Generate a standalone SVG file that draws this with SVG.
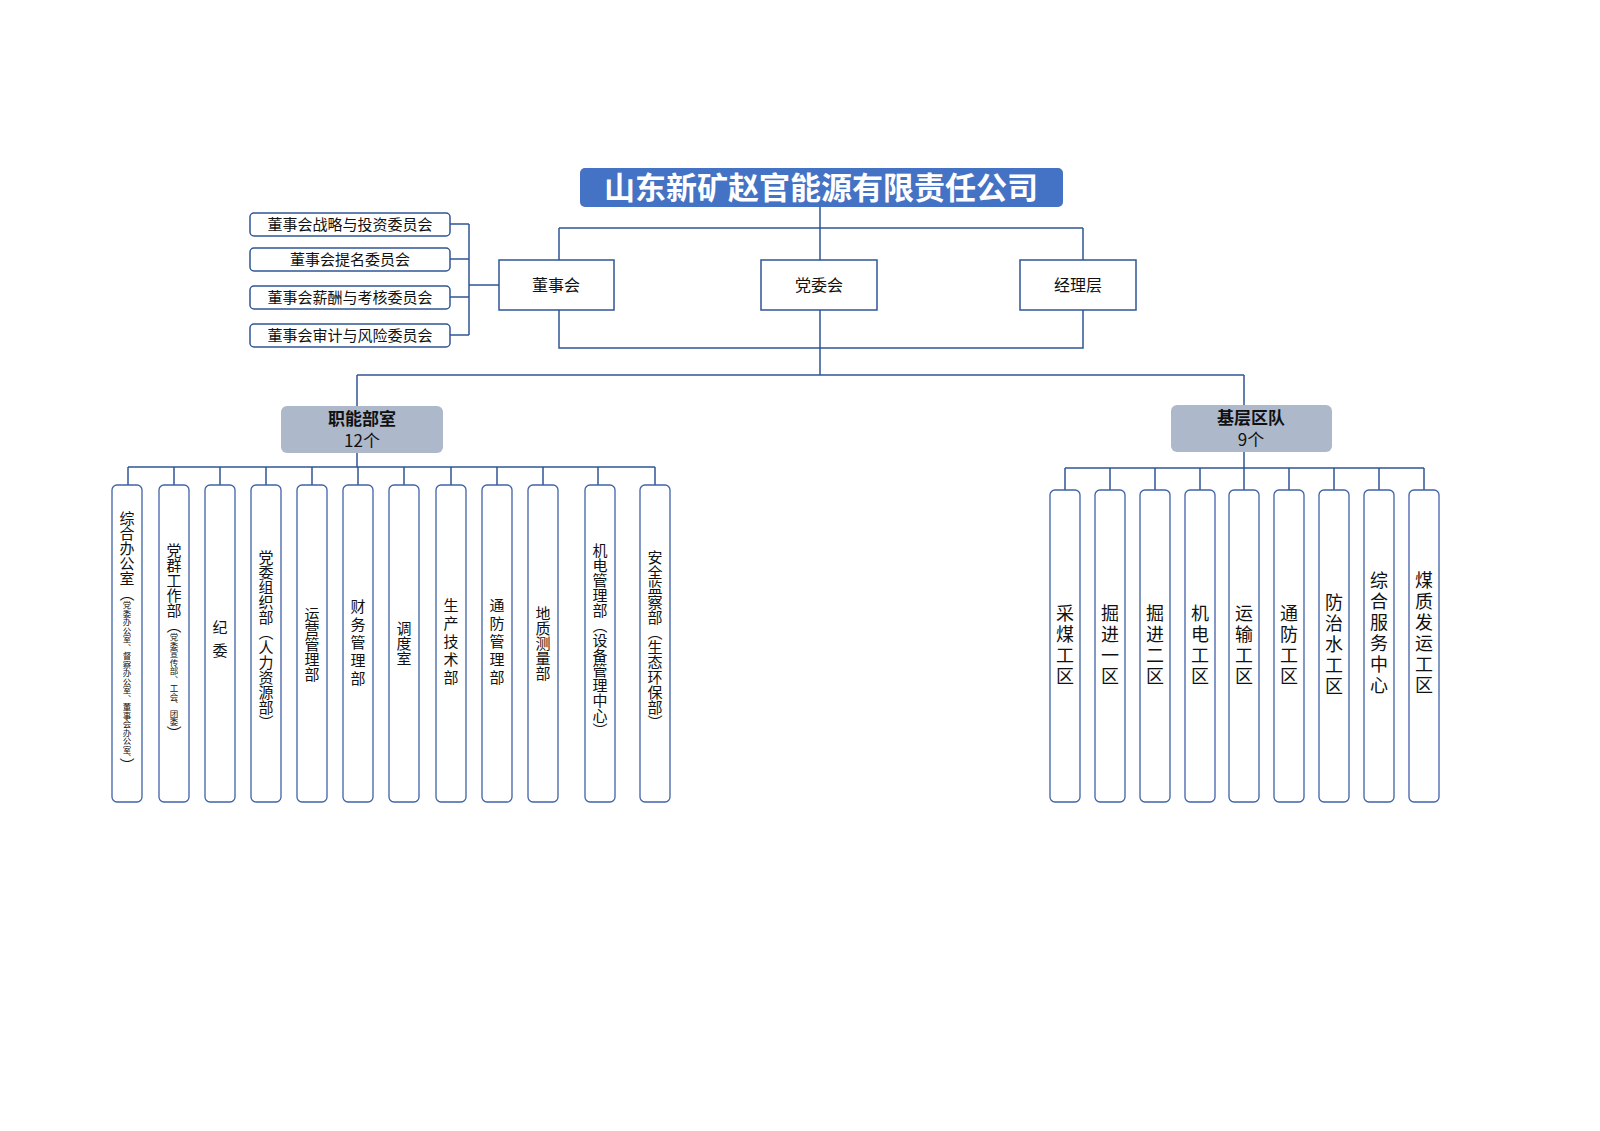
<svg xmlns="http://www.w3.org/2000/svg" width="1600" height="1131" viewBox="0 0 1600 1131">
<style>
text{font-family:"Noto Sans CJK SC","Noto Sans",sans-serif;fill:#111}
.ln{stroke:#2F5597;stroke-width:1.5;fill:none}
.bx{fill:#fff;stroke:#2F5597;stroke-width:1.5}
.cm{fill:#fff;stroke:#2F5597;stroke-width:1.5}
.cat{fill:#ADB9CA}
.col{fill:#fff;stroke:#3F63A8;stroke-width:1.3}
.v{writing-mode:tb;text-anchor:middle;font-size:15px}
.vr{writing-mode:tb;text-anchor:middle;font-size:18px;letter-spacing:3px}
.s{font-size:8.5px}
</style>
<rect width="1600" height="1131" fill="#fff"/>
<g id="connectors" class="ln">
<path d="M820 207V228M559 228H1083M559 228V260M820 228V260M1083 228V260"/>
<path d="M559 310V348H1083V310M820 310V375M357 375H1244M357 375V406M1244 375V405"/>
<path d="M450 224H469M450 259H469M450 297H469M450 335H469M469 224V335M469 285H499"/>
<path d="M357 453V467M128 467H655M128 467V485M174 467V485M220 467V485M266 467V485M312 467V485M358 467V485M404 467V485M451 467V485M497 467V485M543 467V485M598 467V485M655 467V485"/>
<path d="M1244 452V468M1065 468H1424M1065 468V490M1110 468V490M1155 468V490M1200 468V490M1244 468V490M1289 468V490M1334 468V490M1379 468V490M1424 468V490"/>
</g>
<g id="title"><rect x="580" y="168" width="483" height="39" rx="5" fill="#4472C4"/><text x="821" y="199" text-anchor="middle" font-size="31" font-weight="bold" style="fill:#fff">山东新矿赵官能源有限责任公司</text></g>
<g id="dsh"><rect class="bx" x="499" y="260" width="115" height="50"/><text x="556" y="291" text-anchor="middle" font-size="16">董事会</text></g>
<g id="dwh"><rect class="bx" x="761" y="260" width="116" height="50"/><text x="819" y="291" text-anchor="middle" font-size="16">党委会</text></g>
<g id="jlc"><rect class="bx" x="1020" y="260" width="116" height="50"/><text x="1078" y="291" text-anchor="middle" font-size="16">经理层</text></g>
<g id="c1"><rect class="cm" x="250" y="213" width="200" height="23" rx="4"/><text x="350" y="230" text-anchor="middle" font-size="15">董事会战略与投资委员会</text></g>
<g id="c2"><rect class="cm" x="250" y="248" width="200" height="23" rx="4"/><text x="350" y="265" text-anchor="middle" font-size="15">董事会提名委员会</text></g>
<g id="c3"><rect class="cm" x="250" y="286" width="200" height="23" rx="4"/><text x="350" y="303" text-anchor="middle" font-size="15">董事会薪酬与考核委员会</text></g>
<g id="c4"><rect class="cm" x="250" y="324" width="200" height="23" rx="4"/><text x="350" y="341" text-anchor="middle" font-size="15">董事会审计与风险委员会</text></g>
<g id="znbs"><rect class="cat" x="281" y="406" width="162" height="47" rx="6"/><text x="362" y="425" text-anchor="middle" font-size="17" font-weight="bold">职能部室</text><text x="362" y="447" text-anchor="middle" font-size="17">12个</text></g>
<g id="jcqd"><rect class="cat" x="1171" y="405" width="161" height="47" rx="6"/><text x="1251" y="424" text-anchor="middle" font-size="17" font-weight="bold">基层区队</text><text x="1251" y="446" text-anchor="middle" font-size="17">9个</text></g>
<g id="L1"><rect class="col" x="112" y="485" width="30" height="317" rx="5"/><text class="v" x="127" y="642">综合办公室（<tspan class="s">党委办公室、督察办公室、董事会办公室、</tspan>）</text></g>
<g id="L2"><rect class="col" x="159" y="485" width="30" height="317" rx="5"/><text class="v" x="174" y="642">党群工作部（<tspan class="s">党委宣传部、工会、团委</tspan>）</text></g>
<g id="L3"><rect class="col" x="205" y="485" width="30" height="317" rx="5"/><text class="v" x="220" y="643" style="letter-spacing:8px">纪委</text></g>
<g id="L4"><rect class="col" x="251" y="485" width="30" height="317" rx="5"/><text class="v" x="266" y="640">党委组织部（人力资源部）</text></g>
<g id="L5"><rect class="col" x="297" y="485" width="30" height="317" rx="5"/><text class="v" x="312" y="644">运营管理部</text></g>
<g id="L6"><rect class="col" x="343" y="485" width="30" height="317" rx="5"/><text class="v" x="358" y="644" style="letter-spacing:3px">财务管理部</text></g>
<g id="L7"><rect class="col" x="389" y="485" width="30" height="317" rx="5"/><text class="v" x="404" y="643">调度室</text></g>
<g id="L8"><rect class="col" x="436" y="485" width="30" height="317" rx="5"/><text class="v" x="451" y="643" style="letter-spacing:3px">生产技术部</text></g>
<g id="L9"><rect class="col" x="482" y="485" width="30" height="317" rx="5"/><text class="v" x="497" y="643" style="letter-spacing:3px">通防管理部</text></g>
<g id="L10"><rect class="col" x="528" y="485" width="30" height="317" rx="5"/><text class="v" x="543" y="643">地质测量部</text></g>
<g id="L11"><rect class="col" x="585" y="485" width="30" height="317" rx="5"/><text class="v" x="600" y="640">机电管理部（设备管理中心）</text></g>
<g id="L12"><rect class="col" x="640" y="485" width="30" height="317" rx="5"/><text class="v" x="655" y="640">安全监察部（生态环保部）</text></g>
<g id="R1"><rect class="col" x="1050" y="490" width="30" height="312" rx="5"/><text class="vr" x="1065" y="646">采煤工区</text></g>
<g id="R2"><rect class="col" x="1095" y="490" width="30" height="312" rx="5"/><text class="vr" x="1110" y="646">掘进一区</text></g>
<g id="R3"><rect class="col" x="1140" y="490" width="30" height="312" rx="5"/><text class="vr" x="1155" y="646">掘进二区</text></g>
<g id="R4"><rect class="col" x="1185" y="490" width="30" height="312" rx="5"/><text class="vr" x="1200" y="646">机电工区</text></g>
<g id="R5"><rect class="col" x="1229" y="490" width="30" height="312" rx="5"/><text class="vr" x="1244" y="646">运输工区</text></g>
<g id="R6"><rect class="col" x="1274" y="490" width="30" height="312" rx="5"/><text class="vr" x="1289" y="646">通防工区</text></g>
<g id="R7"><rect class="col" x="1319" y="490" width="30" height="312" rx="5"/><text class="vr" x="1334" y="646">防治水工区</text></g>
<g id="R8"><rect class="col" x="1364" y="490" width="30" height="312" rx="5"/><text class="vr" x="1379" y="634">综合服务中心</text></g>
<g id="R9"><rect class="col" x="1409" y="490" width="30" height="312" rx="5"/><text class="vr" x="1424" y="634">煤质发运工区</text></g>
</svg>
